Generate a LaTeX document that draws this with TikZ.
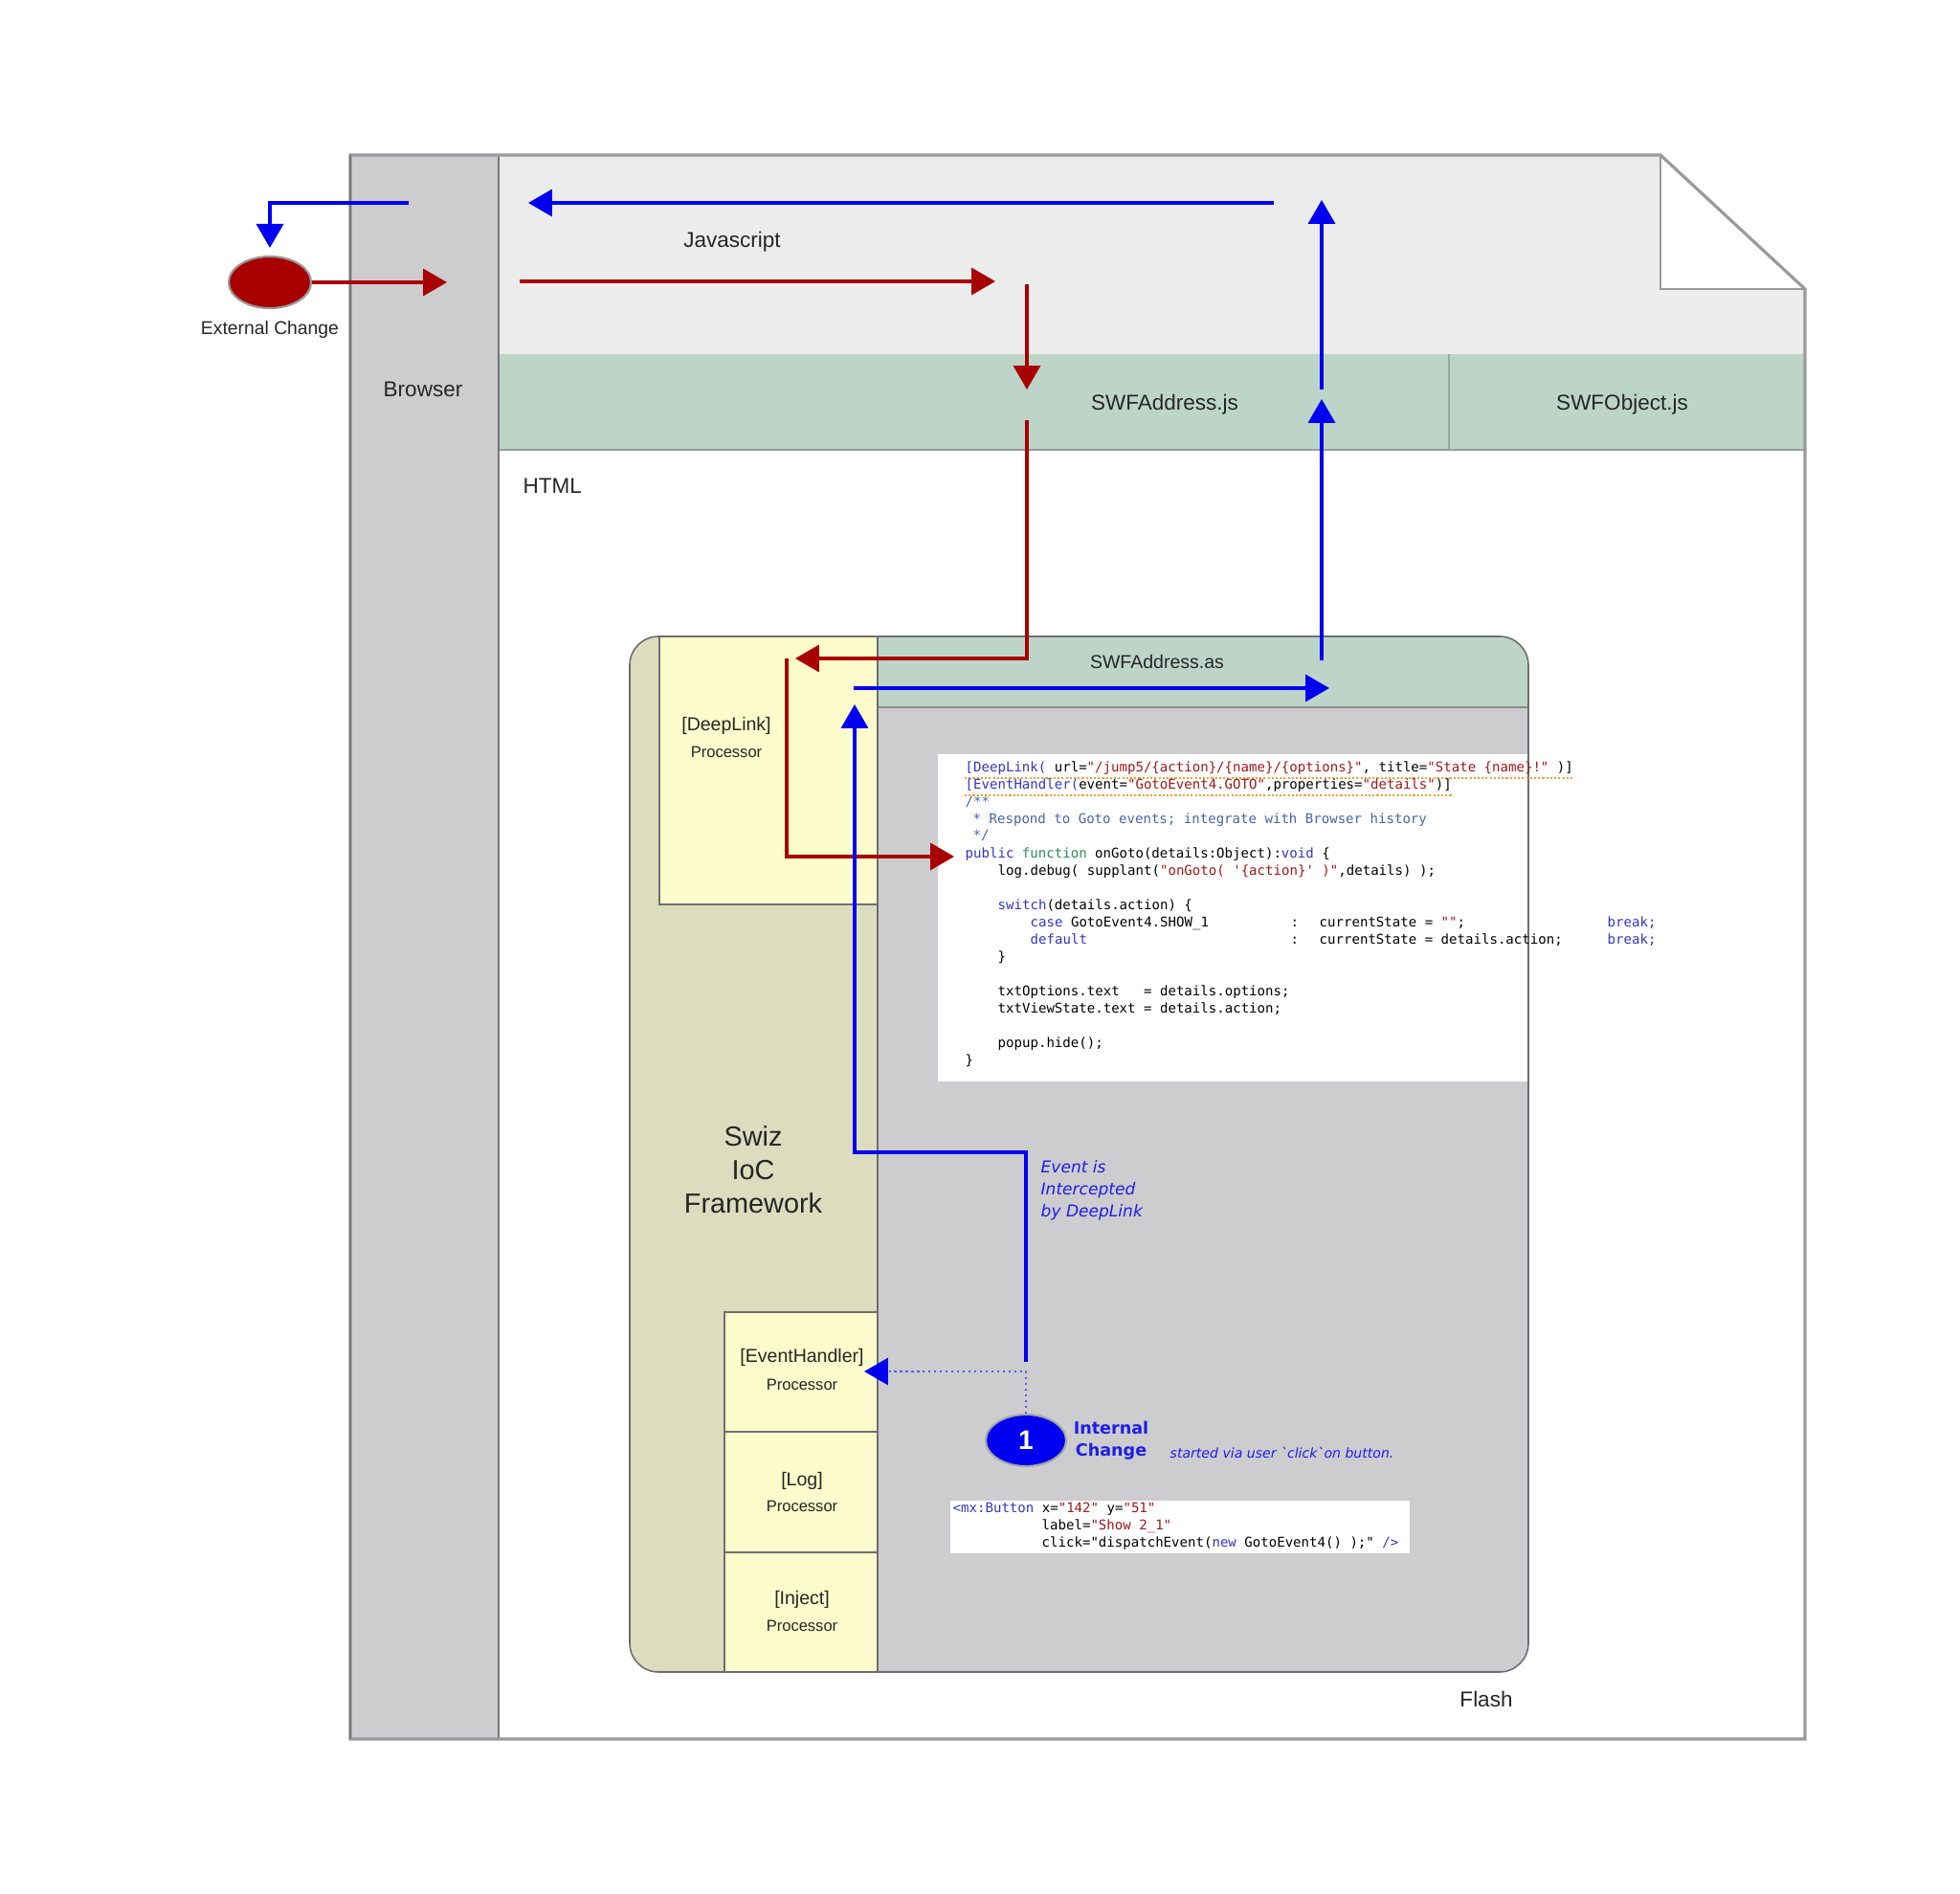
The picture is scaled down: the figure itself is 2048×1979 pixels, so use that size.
\documentclass[tikz,border=0pt]{standalone}
\usepackage{fontspec}
\setmainfont{Liberation Sans}
\setmonofont{DejaVu Sans Mono}
\newfontfamily\verd{DejaVu Sans}
\usetikzlibrary{arrows.meta,shapes.geometric}
\definecolor{pageborder}{HTML}{9A9A9A}
\definecolor{colborder}{HTML}{777777}
\definecolor{browsergray}{HTML}{CDCCCE}
\definecolor{jsgray}{HTML}{ECECEC}
\definecolor{swfgreen}{HTML}{BDD5C9}
\definecolor{bandline}{HTML}{98A89F}
\definecolor{swizkhaki}{HTML}{DCDCBE}
\definecolor{procyellow}{HTML}{FBFBCB}
\definecolor{flashgray}{HTML}{CDCCCE}
\definecolor{boxborder}{HTML}{6E6E6E}
\definecolor{arrowblue}{HTML}{0000F0}
\definecolor{dotblue}{HTML}{5060F0}
\definecolor{arrowred}{HTML}{A80000}
\definecolor{kwblue}{HTML}{3434C8}
\definecolor{kwgreen}{HTML}{2E8B57}
\definecolor{strred}{HTML}{A01818}
\definecolor{cmtblue}{HTML}{4466AA}
\definecolor{squig}{HTML}{F0A030}
\definecolor{labelblue}{HTML}{1E1EE6}
\begin{document}
\begin{tikzpicture}[x=0.01cm,y=-0.01cm,
  lbl/.style={inner sep=0pt, font=\fontsize{6.4pt}{7.7pt}\selectfont, text=black!85},
  boxlbl/.style={inner sep=0pt, font=\fontsize{5.55pt}{6.6pt}\selectfont, text=black!85},
  proclbl/.style={inner sep=0pt, font=\fontsize{4.7pt}{5.6pt}\selectfont, text=black!85},
  code/.style={inner sep=0pt, anchor=west, font=\ttfamily\fontsize{4pt}{5pt}\selectfont, text height=1mm, text depth=0.3mm},
  redarrow/.style={draw=arrowred, line width=0.9pt, -{Triangle[length=7.1pt,width=8pt]}},
  bluearrow/.style={draw=arrowblue, line width=0.9pt, -{Triangle[length=7.1pt,width=8pt]}},
  dotarrow/.style={draw=dotblue, line width=0.7pt, dash pattern=on 0.6pt off 1.1pt, -{Triangle[length=7.1pt,width=8pt,color=arrowblue]}},
  procbox/.style={fill=procyellow, draw=boxborder, line width=0.45pt},
]
\useasboundingbox (0,0) rectangle (2048,1979);
\fill[white] (0,0) rectangle (2048,1979);

% ---------- page: browser column and HTML document ----------
\fill[browsergray] (366,162) rectangle (521,1817);
\fill[white] (521,162) -- (1735,162) -- (1886,302) -- (1886,1817) -- (521,1817) -- cycle;
\fill[jsgray] (521,162) -- (1735,162) -- (1735,302) -- (1886,302) -- (1886,370) -- (521,370) -- cycle;
\fill[swfgreen] (521,370) rectangle (1886,470);
\draw[bandline, line width=0.3pt] (1514,370) -- (1514,470);
\draw[pageborder, line width=0.8pt] (521,470) -- (1886,470);
\draw[colborder, line width=0.45pt] (521,162) -- (521,1817);
\draw[pageborder, line width=0.9pt, line join=miter] (366,162) -- (1735,162) -- (1886,302) -- (1886,1817) -- (366,1817) -- cycle;
\draw[colborder, line width=0.45pt] (366,162) -- (366,1817);
\draw[pageborder, line width=0.8pt] (1735,162) -- (1735,302) -- (1886,302);

% ---------- Flash container ----------
\begin{scope}
  \clip[rounded corners=0.3cm] (658,665) rectangle (1597,1747);
  \fill[swizkhaki] (658,665) rectangle (917,1747);
  \fill[swfgreen] (917,665) rectangle (1597,739);
  \fill[flashgray] (917,739) rectangle (1597,1747);
\end{scope}
\draw[boxborder!80, line width=0.7pt] (917,739) -- (1597,739);
\draw[boxborder, line width=0.3pt] (917,665) -- (917,1747);
\fill[white] (980,788) rectangle (1597,1130);
\fill[white] (993,1568) rectangle (1473,1623);
\draw[boxborder, line width=0.45pt, rounded corners=0.3cm] (658,665) rectangle (1597,1747);

\draw[procbox] (689,665) rectangle (917,945);
\draw[procbox] (757,1371) rectangle (917,1496);
\draw[procbox] (757,1496) rectangle (917,1622);
\draw[procbox] (757,1622) rectangle (917,1747);

% ---------- labels ----------
\node[lbl] (jsl) at (765,253) {Javascript};
\node[lbl] (brl) at (442,407) {Browser};
\node[lbl, anchor=west] (htmll) at (546,508) {HTML};
\node[lbl] (swfjs) at (1217,423) {SWFAddress.js};
\node[lbl] (swfobj) at (1695,423) {SWFObject.js};
\node[boxlbl] (swfas) at (1209,692) {SWFAddress.as};
\node[boxlbl] (dl1) at (759,758) {[DeepLink]};
\node[proclbl] (dl2) at (759,786) {Processor};
\node[inner sep=0pt, align=center, font=\fontsize{8.2pt}{10pt}\selectfont, text=black!85] (swiz) at (787,1222) {Swiz\\IoC\\Framework};
\node[boxlbl] (eh1) at (838,1418) {[EventHandler]};
\node[proclbl] (eh2) at (838,1447) {Processor};
\node[boxlbl] (log1) at (838,1547) {[Log]};
\node[proclbl] (log2) at (838,1574) {Processor};
\node[boxlbl] (inj1) at (838,1671) {[Inject]};
\node[proclbl] (inj2) at (838,1699) {Processor};
\node[lbl] (flashl) at (1553,1775) {Flash};

\node[ellipse, fill=arrowred, draw=gray!80, line width=0.6pt, minimum width=0.86cm, minimum height=0.54cm, inner sep=0pt] (ext) at (282,295) {};
\node[inner sep=0pt, font=\fontsize{5.5pt}{6.6pt}\selectfont, text=black!85] (extl) at (282,345) {External Change};

\node[ellipse, fill=arrowblue, draw=gray!70, line width=0.6pt, minimum width=0.84cm, minimum height=0.54cm, inner sep=0pt, text=white, font=\bfseries\fontsize{8pt}{8pt}\selectfont] (int) at (1072,1505) {1};
\node[inner sep=0pt, align=center, text=labelblue, font=\verd\bfseries\fontsize{5pt}{6.6pt}\selectfont] (intl) at (1161,1505) {Internal\\Change};
\node[inner sep=0pt, anchor=west, text=labelblue, font=\verd\itshape\fontsize{4pt}{5pt}\selectfont] (startl) at (1222,1518) {started via user `click`on button.};
\node[inner sep=0pt, anchor=west, align=left, text=labelblue, font=\verd\itshape\fontsize{4.85pt}{6.5pt}\selectfont] (evl) at (1087,1244) {Event is\\Intercepted\\by DeepLink};

% ---------- code listing ----------
\draw[squig, line width=0.5pt, dash pattern=on 0.6pt off 0.6pt] (1008,813) -- (1645,813);
\draw[squig, line width=0.5pt, dash pattern=on 0.6pt off 0.6pt] (1008,831) -- (1518,831);
\node[code] (c1) at (1008,803) {\textcolor{kwblue}{[DeepLink(} url=\textcolor{strred}{"/jump5/\{action\}/\{name\}/\{options\}"}, title=\textcolor{strred}{"State \{name\}!"} )]};
\node[code] (c2) at (1008,821) {\textcolor{kwblue}{[EventHandler(}event=\textcolor{strred}{"GotoEvent4.GOTO"},properties=\textcolor{strred}{"details"})]};
\node[code, text=cmtblue] (c3) at (1008,839) {/**};
\node[code, text=cmtblue] (c4) at (1016,857) {* Respond to Goto events; integrate with Browser history};
\node[code, text=cmtblue] (c5) at (1016,874) {*/};
\node[code] (c6) at (1008,893) {\textcolor{kwblue}{public} \textcolor{kwgreen}{function} onGoto(details:Object):\textcolor{kwblue}{void} \{};
\node[code] (c7) at (1042,911) {log.debug( supplant(\textcolor{strred}{"onGoto( '\{action\}' )"},details) );};
\node[code] (c9) at (1042,947) {\textcolor{kwblue}{switch}(details.action) \{};
\node[code] (c10) at (1076,965) {\textcolor{kwblue}{case} GotoEvent4.SHOW\_1};
\node[code] (c10b) at (1348,965) {:};
\node[code] (c10c) at (1378,965) {currentState = \textcolor{strred}{""};};
\node[code] (c10d) at (1679,965) {\textcolor{kwblue}{break;}};
\node[code] (c11) at (1076,983) {\textcolor{kwblue}{default}};
\node[code] (c11b) at (1348,983) {:};
\node[code] (c11c) at (1378,983) {currentState = details.action;};
\node[code] (c11d) at (1679,983) {\textcolor{kwblue}{break;}};
\node[code] (c12) at (1042,1001) {\}};
\node[code] (c14) at (1042,1037) {txtOptions.text~~~= details.options;};
\node[code] (c15) at (1042,1055) {txtViewState.text = details.action;};
\node[code] (c17) at (1042,1091) {popup.hide();};
\node[code] (c18) at (1008,1109) {\}};

\node[code] (bt1) at (995,1577) {\textcolor{kwblue}{<mx:Button} x=\textcolor{strred}{"142"} y=\textcolor{strred}{"51"}};
\node[code] (bt2) at (1088,1595) {label=\textcolor{strred}{"Show 2\_1"}};
\node[code] (bt3) at (1088,1613) {click="dispatchEvent(\textcolor{kwblue}{new} GotoEvent4() );" \textcolor{kwblue}{/>}};

% ---------- connector end points ----------
\coordinate (r1e) at (467,295);
\coordinate (r2s) at (543,294); \coordinate (r2e) at (1040,294);
\coordinate (r3s) at (1073,297); \coordinate (r3e) at (1073,407);
\coordinate (r4s) at (1073,439); \coordinate (r4e) at (831,688);
\coordinate (r5s) at (822,688); \coordinate (r5e) at (997,895);
\coordinate (b1e) at (903,1433);
\coordinate (b2s) at (1072,1423); \coordinate (b2a) at (1072,1204);
\coordinate (b2b) at (893,1204); \coordinate (b2e) at (893,736);
\coordinate (b3s) at (892,719); \coordinate (b3e) at (1389,719);
\coordinate (b4s) at (1381,690); \coordinate (b4e) at (1381,417);
\coordinate (b5s) at (1381,407); \coordinate (b5e) at (1381,209);
\coordinate (b6s) at (1331,212); \coordinate (b6e) at (552,212);
\coordinate (b7s) at (427,212);

% ---------- connectors ----------
\draw[redarrow] (ext.east) -- (r1e);
\draw[redarrow] (r2s) -- (r2e);
\draw[redarrow] (r3s) -- (r3e);
\draw[redarrow] (r4s) |- (r4e);
\draw[redarrow] (r5s) |- (r5e);
\draw[dotarrow] (int.north) |- (b1e);
\draw[bluearrow] (b2s) -- (b2a) -- (b2b) -- (b2e);
\draw[bluearrow] (b3s) -- (b3e);
\draw[bluearrow] (b4s) -- (b4e);
\draw[bluearrow] (b5s) -- (b5e);
\draw[bluearrow] (b6s) -- (b6e);
\draw[bluearrow, shorten >=0.08cm] (b7s) -| (ext.north);
\end{tikzpicture}
\end{document}
